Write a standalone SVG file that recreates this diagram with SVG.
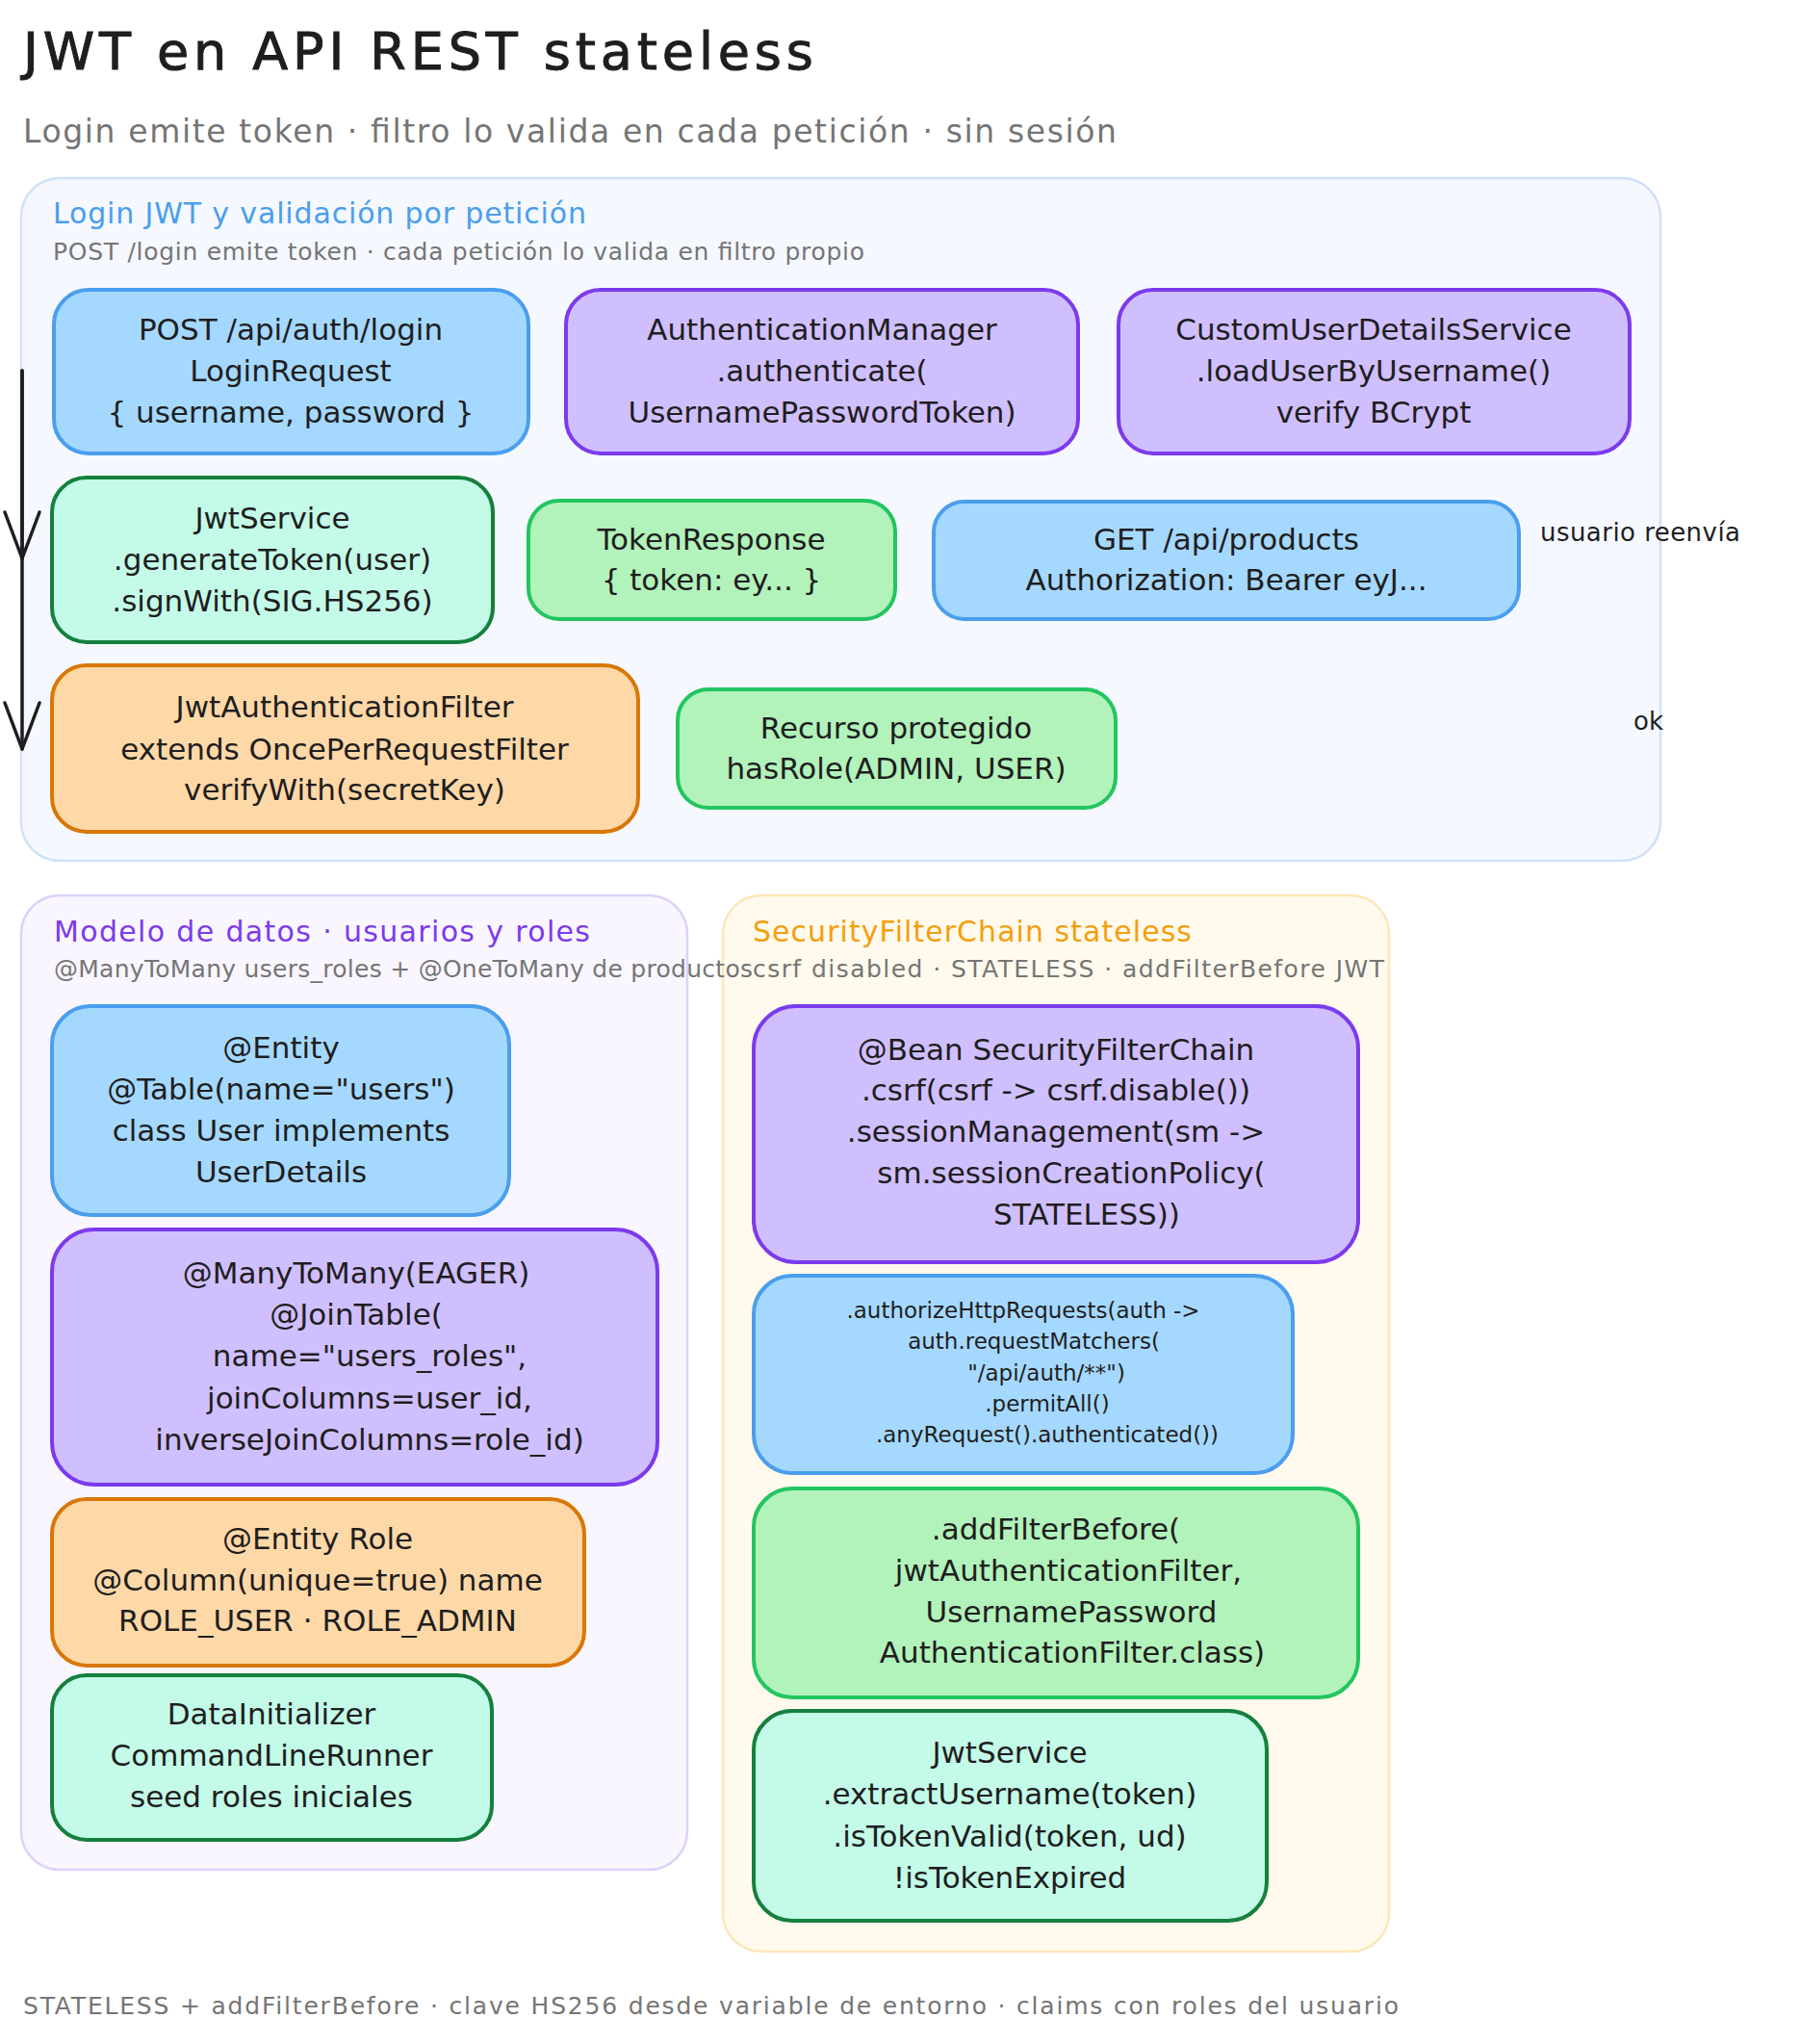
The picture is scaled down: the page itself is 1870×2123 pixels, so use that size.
<svg xmlns="http://www.w3.org/2000/svg" width="1870" height="2123" viewBox="0 0 1870 2123">
<defs>
<style>
.bg{fill:#ffffff}
.grp{stroke-width:2.5}
.g1{fill:#f5f8ff;stroke:#cfe1f9}
.g2{fill:#f9f6ff;stroke:#ddd1fa}
.g3{fill:#fffaed;stroke:#fde7b8}
.node rect{stroke-width:4}
.blue rect{fill:#a5d8ff;stroke:#4a9eed}
.purple rect{fill:#d0bfff;stroke:#7c3aed}
.mint rect{fill:#c3fae8;stroke:#15803d}
.green rect{fill:#b2f2bb;stroke:#22c55e}
.orange rect{fill:#ffd8a8;stroke:#d97706}
text{font-family:"DejaVu Sans","Liberation Sans",sans-serif}
.t{font-size:31px;fill:#1e1e1e;text-anchor:middle}
.ts{font-size:23px}
.gt{font-size:30px}
.gs{font-size:25px;fill:#757575}
.lbl{font-size:26px;fill:#1e1e1e}
.conn{fill:none;stroke:#1e1e1e;stroke-width:3.5;stroke-linecap:round}
</style>
<marker id="arrow" viewBox="-52 -22 56 44" refX="0" refY="0" markerWidth="56" markerHeight="44" markerUnits="userSpaceOnUse" orient="auto">
<path d="M-48 -18 L0 0 L-48 18" fill="none" stroke="#1e1e1e" stroke-width="3.5" stroke-linecap="round" stroke-linejoin="round"/>
</marker>
</defs>
<rect class="bg" x="0" y="0" width="1870" height="2123"/>

<g id="header">
<text x="24" y="72" font-size="54" fill="#1e1e1e" stroke="#1e1e1e" stroke-width="1" textLength="821" lengthAdjust="spacing">JWT en API REST stateless</text>
<text x="24" y="148" font-size="33" fill="#757575" textLength="1136" lengthAdjust="spacing">Login emite token · filtro lo valida en cada petición · sin sesión</text>
</g>

<g id="group-login">
<rect class="grp g1" x="22" y="185" width="1703" height="709" rx="40"/>
<text class="gt" x="55" y="232" fill="#4a9eed" textLength="554" lengthAdjust="spacing">Login JWT y validación por petición</text>
<text class="gs" x="55" y="270" textLength="843" lengthAdjust="spacing">POST /login emite token · cada petición lo valida en filtro propio</text>
</g>

<g id="group-security">
<rect class="grp g3" x="751" y="930" width="692" height="1097" rx="40"/>
<text class="gt" x="782" y="978" fill="#f59e0b" textLength="456" lengthAdjust="spacing">SecurityFilterChain stateless</text>
<text class="gs" x="782" y="1015" textLength="656" lengthAdjust="spacing">csrf disabled · STATELESS · addFilterBefore JWT</text>
</g>

<g id="group-modelo">
<rect class="grp g2" x="22" y="930" width="692" height="1012" rx="40"/>
<text class="gt" x="56" y="978" fill="#7c3aed" textLength="557" lengthAdjust="spacing">Modelo de datos · usuarios y roles</text>
<text class="gs" x="56" y="1015" textLength="726" lengthAdjust="spacing">@ManyToMany users_roles + @OneToMany de productos</text>
</g>

<g id="n-login" class="node blue">
<rect x="56" y="301" width="493" height="170" rx="36"/>
<text class="t" x="302" y="353">POST /api/auth/login</text>
<text class="t" x="302" y="396">LoginRequest</text>
<text class="t" x="302" y="439">{ username, password }</text>
</g>

<g id="n-authmanager" class="node purple">
<rect x="588" y="301" width="532" height="170" rx="36"/>
<text class="t" x="854" y="353">AuthenticationManager</text>
<text class="t" x="854" y="396">.authenticate(</text>
<text class="t" x="854" y="439">UsernamePasswordToken)</text>
</g>

<g id="n-userdetails" class="node purple">
<rect x="1162" y="301" width="531" height="170" rx="36"/>
<text class="t" x="1427" y="353">CustomUserDetailsService</text>
<text class="t" x="1427" y="396">.loadUserByUsername()</text>
<text class="t" x="1427" y="439">verify BCrypt</text>
</g>

<g id="n-jwtservice-gen" class="node mint">
<rect x="54" y="496" width="458" height="171" rx="36"/>
<text class="t" x="283" y="549">JwtService</text>
<text class="t" x="283" y="592">.generateToken(user)</text>
<text class="t" x="283" y="635">.signWith(SIG.HS256)</text>
</g>

<g id="n-tokenresponse" class="node green">
<rect x="549" y="520" width="381" height="123" rx="32"/>
<text class="t" x="739" y="571">TokenResponse</text>
<text class="t" x="739" y="613">{ token: ey... }</text>
</g>

<g id="n-get-products" class="node blue">
<rect x="970" y="521" width="608" height="122" rx="32"/>
<text class="t" x="1274" y="571">GET /api/products</text>
<text class="t" x="1274" y="613">Authorization: Bearer eyJ...</text>
</g>

<g id="n-jwtfilter" class="node orange">
<rect x="54" y="691" width="609" height="173" rx="36"/>
<text class="t" x="358" y="745">JwtAuthenticationFilter</text>
<text class="t" x="358" y="789">extends OncePerRequestFilter</text>
<text class="t" x="358" y="831">verifyWith(secretKey)</text>
</g>

<g id="n-recurso" class="node green">
<rect x="704" y="716" width="455" height="123" rx="32"/>
<text class="t" x="931" y="767">Recurso protegido</text>
<text class="t" x="931" y="809">hasRole(ADMIN, USER)</text>
</g>

<g id="n-user-entity" class="node blue">
<rect x="54" y="1045" width="475" height="217" rx="40"/>
<text class="t" x="292" y="1099">@Entity</text>
<text class="t" x="292" y="1142">@Table(name="users")</text>
<text class="t" x="292" y="1185">class User implements</text>
<text class="t" x="292" y="1228">UserDetails</text>
</g>

<g id="n-manytomany" class="node purple">
<rect x="54" y="1277" width="629" height="265" rx="44"/>
<text class="t" x="370" y="1333">@ManyToMany(EAGER)</text>
<text class="t" x="370" y="1376">@JoinTable(</text>
<text class="t" x="384" y="1419">name="users_roles",</text>
<text class="t" x="384" y="1463">joinColumns=user_id,</text>
<text class="t" x="384" y="1506">inverseJoinColumns=role_id)</text>
</g>

<g id="n-role" class="node orange">
<rect x="54" y="1557" width="553" height="173" rx="36"/>
<text class="t" x="330" y="1609">@Entity Role</text>
<text class="t" x="330" y="1652">@Column(unique=true) name</text>
<text class="t" x="330" y="1694">ROLE_USER · ROLE_ADMIN</text>
</g>

<g id="n-datainit" class="node mint">
<rect x="54" y="1740" width="457" height="171" rx="36"/>
<text class="t" x="282" y="1791">DataInitializer</text>
<text class="t" x="282" y="1834">CommandLineRunner</text>
<text class="t" x="282" y="1877">seed roles iniciales</text>
</g>

<g id="n-bean" class="node purple">
<rect x="783" y="1045" width="628" height="266" rx="44"/>
<text class="t" x="1097" y="1101">@Bean SecurityFilterChain</text>
<text class="t" x="1097" y="1143">.csrf(csrf -&gt; csrf.disable())</text>
<text class="t" x="1097" y="1186">.sessionManagement(sm -&gt;</text>
<text class="t" x="1113" y="1229">sm.sessionCreationPolicy(</text>
<text class="t" x="1129" y="1272">STATELESS))</text>
</g>

<g id="n-authorize" class="node blue">
<rect x="783" y="1325" width="560" height="205" rx="40"/>
<text class="t ts" x="1063" y="1369">.authorizeHttpRequests(auth -&gt;</text>
<text class="t ts" x="1074" y="1401">auth.requestMatchers(</text>
<text class="t ts" x="1087" y="1434">"/api/auth/**")</text>
<text class="t ts" x="1088" y="1466">.permitAll()</text>
<text class="t ts" x="1088" y="1498">.anyRequest().authenticated())</text>
</g>

<g id="n-addfilter" class="node green">
<rect x="783" y="1546" width="628" height="217" rx="40"/>
<text class="t" x="1097" y="1599">.addFilterBefore(</text>
<text class="t" x="1110" y="1642">jwtAuthenticationFilter,</text>
<text class="t" x="1113" y="1685">UsernamePassword</text>
<text class="t" x="1114" y="1727">AuthenticationFilter.class)</text>
</g>

<g id="n-jwtservice-val" class="node mint">
<rect x="783" y="1777" width="533" height="218" rx="40"/>
<text class="t" x="1049" y="1831">JwtService</text>
<text class="t" x="1049" y="1874">.extractUsername(token)</text>
<text class="t" x="1049" y="1918">.isTokenValid(token, ud)</text>
<text class="t" x="1049" y="1961">!isTokenExpired</text>
</g>

<g id="connectors">
<path class="conn" d="M23 385 L23 580" marker-end="url(#arrow)"/>
<path class="conn" d="M23 385 L23 778" marker-end="url(#arrow)"/>
<text class="lbl" x="1600" y="562" textLength="208" lengthAdjust="spacing">usuario reenvía</text>
<text class="lbl" x="1697" y="758">ok</text>
</g>

<g id="footer">
<text class="gs" x="24" y="2092" font-size="26" textLength="1429" lengthAdjust="spacing">STATELESS + addFilterBefore · clave HS256 desde variable de entorno · claims con roles del usuario</text>
</g>
</svg>
